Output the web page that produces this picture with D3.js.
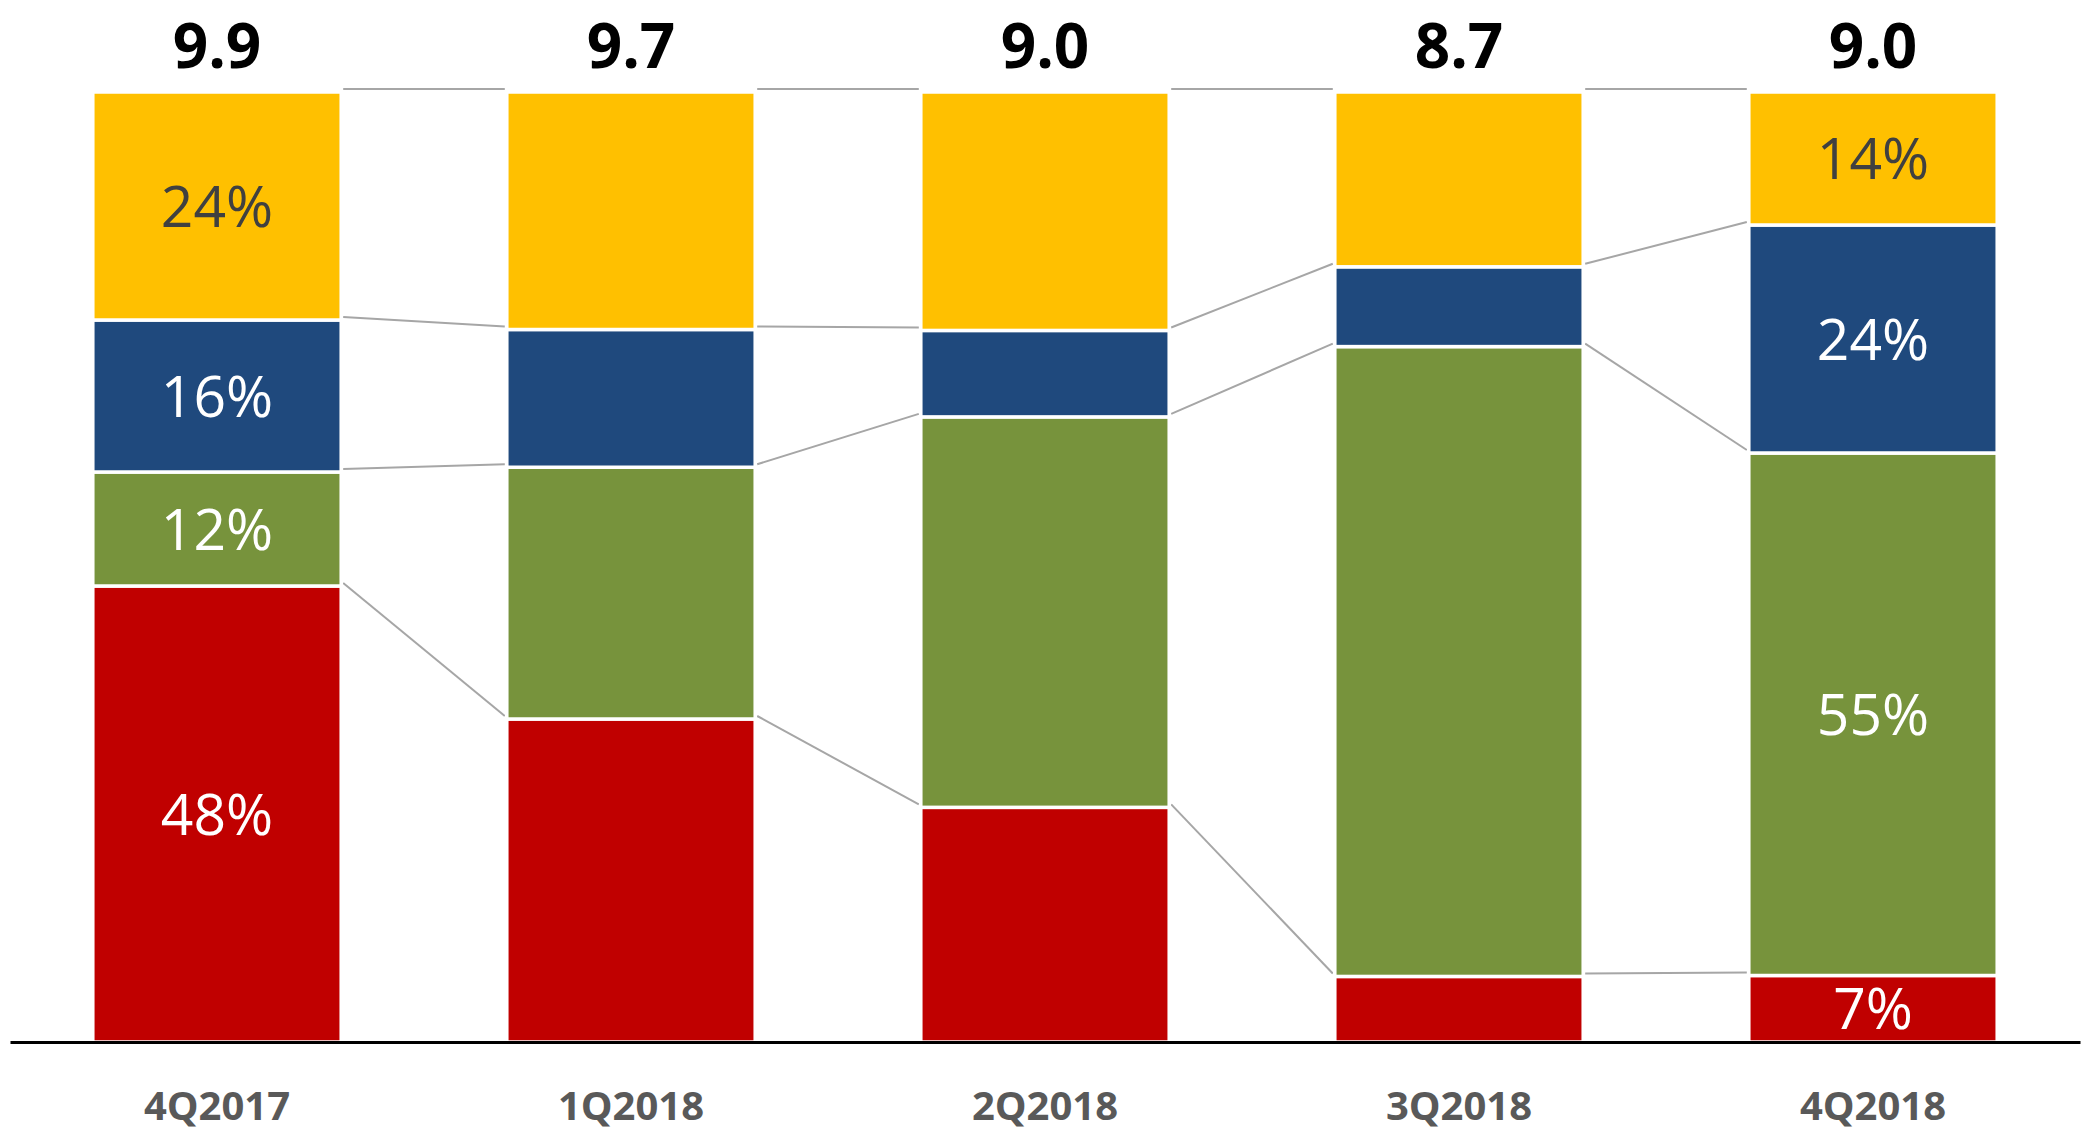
<!DOCTYPE html>
<html lang="en">
<head>
    <meta charset="UTF-8">
    <title>Stacked share chart</title>
    <style>
        body { margin: 0; background: #fff; }
    </style>
</head>
<body>
    <script src="https://cdn.jsdelivr.net/npm/d3@7"></script>
    <script>
        // data
        const quarters = ['4Q2017', '1Q2018', '2Q2018', '3Q2018', '4Q2018'];
        const totals = ['9.9', '9.7', '9.0', '8.7', '9.0'];
        const seriesNames = ['red', 'green', 'blue', 'yellow']; // bottom -> top
        const redShare = [48, 34, 24.7, 6.9, 7];
        const greenShare = [12, 26.5, 41.1, 66.3, 55];
        const blueShare = [16, 14.5, 9.1, 8.4, 24];
        const yellowShare = [24, 25, 25.1, 18.4, 14];
        const labelledBars = ['4Q2017', '4Q2018'];

        const colors = { red: '#C00000', green: '#77933C', blue: '#1F497D', yellow: '#FFC000' };
        const labelColors = { red: '#fff', green: '#fff', blue: '#fff', yellow: '#404040' };

        const w = 2092;
        const h = 1131;
        const baseY = 1042;
        const topY = 92;

        const svg = d3.select('body')
            .append('svg')
            .attr('width', w)
            .attr('height', h);

        const rows = quarters.map((q, i) => ({
            q: q,
            red: redShare[i],
            green: greenShare[i],
            blue: blueShare[i],
            yellow: yellowShare[i]
        }));

        const stack = d3.stack().keys(seriesNames)(rows);

        const x = d3.scaleBand()
            .domain(quarters)
            .range([10, 2080])
            .paddingInner(0.4)
            .paddingOuter(0.2);

        const y = d3.scaleLinear()
            .domain([0, 100])
            .range([baseY, topY]);

        // series lines between bars (top of each segment)
        const links = [];
        stack.forEach(layer => {
            for (let i = 0; i < quarters.length - 1; i++) {
                links.push({
                    x1: x(quarters[i]) + x.bandwidth(),
                    y1: y(layer[i][1]),
                    x2: x(quarters[i + 1]),
                    y2: y(layer[i + 1][1])
                });
            }
        });
        svg.append('g').selectAll('line')
            .data(links)
            .enter()
            .append('line')
            .attr('x1', d => d.x1 + 2)
            .attr('y1', d => d.y1 - 3)
            .attr('x2', d => d.x2 - 2)
            .attr('y2', d => d.y2 - 3)
            .attr('stroke', '#A6A6A6')
            .attr('stroke-width', 2);

        // stacked bars
        const layers = svg.append('g').selectAll('g')
            .data(stack)
            .enter()
            .append('g')
            .attr('fill', d => colors[d.key]);

        layers.selectAll('rect')
            .data(d => d)
            .enter()
            .append('rect')
            .attr('x', d => x(d.data.q))
            .attr('y', d => y(d[1]))
            .attr('width', x.bandwidth())
            .attr('height', d => y(d[0]) - y(d[1]))
            .attr('stroke', '#fff')
            .attr('stroke-width', 3.5);

        // segment labels on first and last bar
        layers.each(function(layer) {
            d3.select(this).selectAll('text')
                .data(layer.filter(d => labelledBars.includes(d.data.q)))
                .enter()
                .append('text')
                .attr('x', d => x(d.data.q) + x.bandwidth() / 2)
                .attr('y', d => (y(d[0]) + y(d[1])) / 2)
                .attr('dy', '0.36em')
                .attr('text-anchor', 'middle')
                .attr('font-family', '"Open Sans", sans-serif')
                .attr('font-size', '57px')
                .attr('fill', labelColors[layer.key])
                .text(d => `${Math.round(d[1] - d[0])}%`);
        });

        // totals above bars
        svg.append('g').selectAll('text')
            .data(quarters)
            .enter()
            .append('text')
            .attr('x', d => x(d) + x.bandwidth() / 2)
            .attr('y', 68)
            .attr('text-anchor', 'middle')
            .attr('font-family', '"Open Sans", sans-serif')
            .attr('font-weight', 'bold')
            .attr('font-size', '62px')
            .attr('fill', '#000')
            .text((d, i) => totals[i]);

        // x axis
        const xAxis = d3.axisBottom(x).tickSize(0).tickPadding(0);
        const axisG = svg.append('g')
            .attr('transform', `translate(0,${baseY})`)
            .call(xAxis);
        axisG.select('.domain')
            .attr('stroke', '#000')
            .attr('stroke-width', 3);
        axisG.selectAll('.tick text')
            .attr('y', 78)
            .attr('dy', 0)
            .attr('font-family', '"Open Sans", sans-serif')
            .attr('font-weight', 'bold')
            .attr('font-size', '40px')
            .attr('fill', '#595959');
    </script>
</body>
</html>
